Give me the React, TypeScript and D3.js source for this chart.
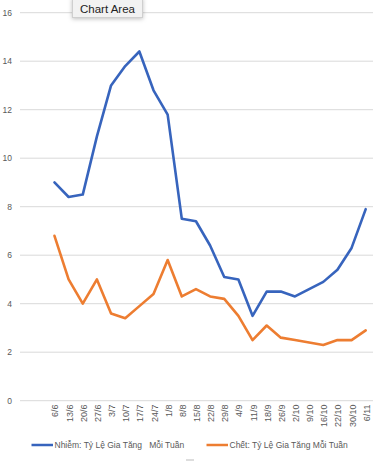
import React from "react";
import * as d3 from "d3";

const categories = ["6/6","13/6","20/6","27/6","3/7","10/7","17/7","24/7","1/8","8/8","15/8","22/8","29/8","4/9","11/9","18/9","26/9","2/10","9/10","16/10","22/10","30/10","6/11"];
const infected = [9.0,8.4,8.5,10.9,13.0,13.8,14.4,12.8,11.8,7.5,7.4,6.4,5.1,5.0,3.5,4.5,4.5,4.3,4.6,4.9,5.4,6.3,7.9];
const deaths = [6.8,5.0,4.0,5.0,3.6,3.4,3.9,4.4,5.8,4.3,4.6,4.3,4.2,3.5,2.5,3.1,2.6,2.5,2.4,2.3,2.5,2.5,2.9];
const yTicks = [0,2,4,6,8,10,12,14,16];
const seriesNames = ["Nhiễm: Tỷ Lệ Gia Tăng   Mỗi Tuần", "Chết: Tỷ Lệ Gia Tăng Mỗi Tuần"];

const W = 381, H = 461;
const BLUE = "#3764BD";
const ORANGE = "#ED7D31";
const FONT = "'Liberation Sans', Arial, sans-serif";

export default function App() {
  const x = d3.scaleBand<string>().domain(categories).range([47.4, 372.8]);
  const y = d3.scaleLinear().domain([0, 16]).range([400.7, 12.7]);
  const cx = (c: string) => (x(c) as number) + x.bandwidth() / 2;
  const line = d3.line<number>().x((_, i) => cx(categories[i])).y(d => y(d));

  return (
    <svg width={W} height={H} style={{ position: "absolute", left: 0, top: 0, background: "#fff" }}>
      <rect x={0} y={0} width={W} height={H} fill="#fff" />
      {yTicks.map(t => (
        <g key={t}>
          <line x1={20} x2={373} y1={y(t)} y2={y(t)} stroke="#d9d9d9" strokeWidth={1} />
          <text x={12} y={y(t)} dy="0.35em" textAnchor="end" fontSize={8.5} fill="#595959" fontFamily={FONT}>{t}</text>
        </g>
      ))}
      {categories.map(c => (
        <text key={c} transform={`translate(${cx(c) + 4},${404.5}) rotate(-90)`} textAnchor="end" fontSize={9} fill="#595959" fontFamily={FONT}>{c}</text>
      ))}
      <path d={line(infected) || ""} fill="none" stroke={BLUE} strokeWidth={2.6} strokeLinejoin="round" strokeLinecap="round" />
      <path d={line(deaths) || ""} fill="none" stroke={ORANGE} strokeWidth={2.6} strokeLinejoin="round" strokeLinecap="round" />
      <g>
        <line x1={31.5} x2={53} y1={445} y2={445} stroke={BLUE} strokeWidth={2.5} />
        <text x={54.5} y={445} dy="0.35em" fontSize={8.5} fill="#595959" fontFamily={FONT} style={{ whiteSpace: "pre" }}>{seriesNames[0]}</text>
        <line x1={206.5} x2={228} y1={445} y2={445} stroke={ORANGE} strokeWidth={2.5} />
        <text x={229.5} y={445} dy="0.35em" fontSize={8.5} fill="#595959" fontFamily={FONT}>{seriesNames[1]}</text>
      </g>
      <line x1={186} x2={194} y1={460} y2={460} stroke="#bbb" strokeWidth={1} />
      <g>
        <rect x={72.5} y={-2} width={70} height={19.5} fill="#f2f2f2" stroke="#cfcfcf" strokeWidth={1} style={{ filter: "drop-shadow(0px 1px 2px rgba(0,0,0,0.25))" }} />
        <text x={107.5} y={8.5} dy="0.35em" textAnchor="middle" fontSize={11.5} fill="#222" fontFamily={FONT}>Chart Area</text>
      </g>
    </svg>
  );
}
